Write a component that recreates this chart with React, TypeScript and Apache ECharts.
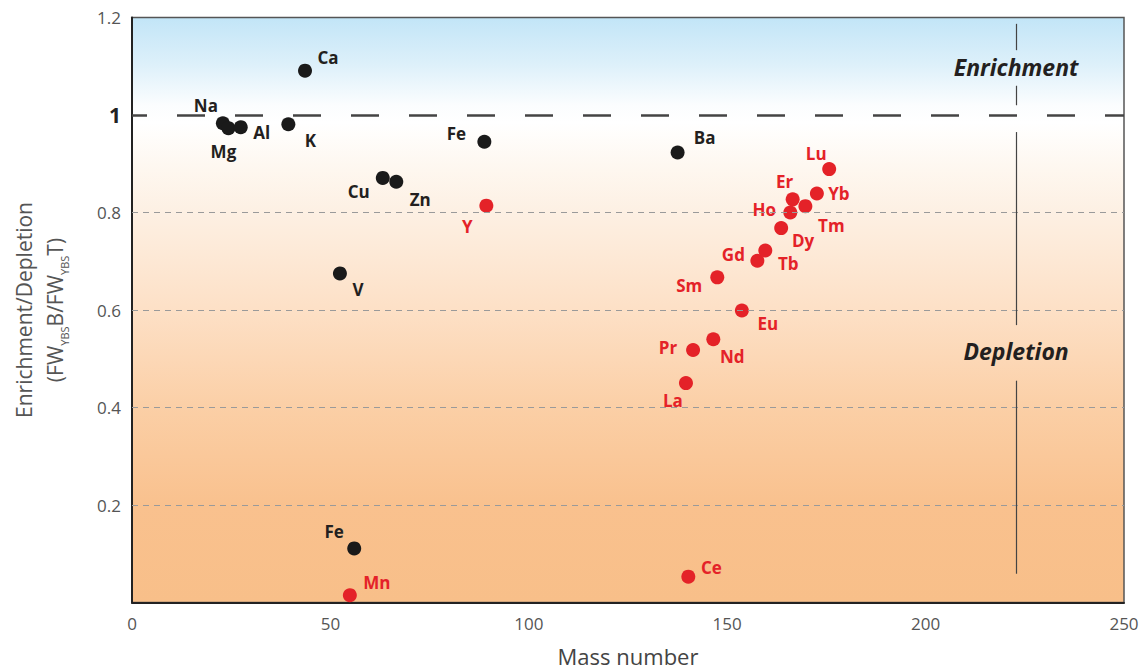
import React, { useEffect, useRef } from 'react';
import * as echarts from 'echarts';

// ---- Data ----
const blackNames = ['Ca', 'Na', 'Mg', 'Al', 'K', 'Fe', 'Ba', 'Cu', 'Zn', 'V', 'Fe'];
const blackMass = [43.6, 22.9, 24.3, 27.4, 39.4, 88.8, 137.5, 63.2, 66.6, 52.4, 56.0];
const blackRatio = [1.091, 0.983, 0.973, 0.975, 0.981, 0.945, 0.923, 0.871, 0.863, 0.675, 0.111];

const redNames = ['Y', 'La', 'Ce', 'Pr', 'Nd', 'Sm', 'Eu', 'Gd', 'Tb', 'Dy', 'Ho', 'Er', 'Tm', 'Yb', 'Lu', 'Mn'];
const redMass = [89.3, 139.6, 140.2, 141.4, 146.5, 147.5, 153.7, 157.6, 159.6, 163.6, 165.9, 166.5, 169.7, 172.6, 175.7, 54.9];
const redRatio = [0.814, 0.450, 0.053, 0.518, 0.540, 0.667, 0.599, 0.701, 0.722, 0.768, 0.800, 0.827, 0.813, 0.839, 0.889, 0.015];

const xMin = 0;
const xMax = 250;
const xStep = 50;
const yMin = 0;
const yMax = 1.2;
const yStep = 0.2;
const gridValues = [0.2, 0.4, 0.6, 0.8];
const unityValue = 1;
const dividerMass = 222.8;
const dividerSegments = [
  [1.187, 1.133],
  [1.06, 1.02],
  [0.965, 0.569],
  [0.455, 0.059],
];
const regionNames = ['Enrichment', 'Depletion'];
const regionMass = [222.8, 222.8];
const regionRatio = [1.098, 0.515];

// ---- Layout: label offsets (px) relative to the dot ----
const blackOffsets = [
  [23, -13], [-17, -18], [-5, 23], [21, 5], [22, 16], [-28, -8], [27, -15], [-24, 14], [24, 18], [18, 16], [-20, -17],
];
const redOffsets = [
  [-19, 21], [-13, 17], [23, -9], [-25, -2], [19, 17], [-28, 8], [26, 13], [-24, -6], [23, 13], [22, 12], [-26, -3],
  [-8, -18], [26, 19], [22, 0], [-13, -16], [27, -13],
];

const FONT = '"Open Sans", "Noto Sans", sans-serif';
const BLACK = '#1a1a1a';
const RED = '#e42228';

export default function App() {
  const ref = useRef<HTMLDivElement>(null);

  useEffect(() => {
    if (!ref.current) return;
    const chart = echarts.init(ref.current, undefined, { renderer: 'svg' });

    const mkPoints = (names: string[], xs: number[], ys: number[], offs: number[][]) =>
      names.map((n, i) => ({
        name: n,
        value: [xs[i], ys[i]],
        label: { offset: offs[i] },
      }));

    const gridMarkLines: any[] = gridValues.map((v) => ({
      yAxis: v,
      lineStyle: { type: [6, 5], color: '#9a9a9a', width: 1 },
    }));
    gridMarkLines.push({
      yAxis: unityValue,
      lineStyle: { type: [28, 30], dashOffset: 13, color: '#444', width: 2.6 },
    });
    dividerSegments.forEach((s) => {
      gridMarkLines.push([
        { coord: [dividerMass, s[0]], lineStyle: { type: 'solid', color: '#444', width: 1.2 } },
        { coord: [dividerMass, s[1]] },
      ]);
    });

    const labelBase = {
      show: true,
      position: 'inside',
      formatter: '{b}',
      fontSize: 17,
      fontWeight: 'bold',
      fontFamily: FONT,
    };

    const option: any = {
      animation: false,
      textStyle: { fontFamily: FONT },
      grid: {
        left: 128,
        right: 22,
        top: 17.5,
        bottom: 69.5,
        show: true,
        borderColor: '#555',
        borderWidth: 1.5,
        backgroundColor: new echarts.graphic.LinearGradient(0, 0, 0, 1, [
          { offset: 0, color: '#c2e5f7' },
          { offset: 0.08, color: '#ddf0fa' },
          { offset: 0.15, color: '#fbfdfe' },
          { offset: 0.18, color: '#ffffff' },
          { offset: 0.25, color: '#fef8f1' },
          { offset: 0.333, color: '#fdf0e3' },
          { offset: 0.5, color: '#fde0c6' },
          { offset: 0.667, color: '#fbcfa6' },
          { offset: 0.833, color: '#f9c18e' },
          { offset: 1, color: '#f8bf89' },
        ]),
      },
      xAxis: {
        type: 'value',
        min: xMin,
        max: xMax,
        interval: xStep,
        splitLine: { show: false },
        axisTick: { show: false },
        axisLine: { show: true, lineStyle: { color: '#222', width: 2 } },
        axisLabel: { fontSize: 17, color: '#555', margin: 12, fontFamily: FONT },
        name: 'Mass number',
        nameLocation: 'middle',
        nameGap: 42,
        nameTextStyle: { fontSize: 22, color: '#444', fontFamily: FONT },
      },
      yAxis: {
        type: 'value',
        min: yMin,
        max: yMax,
        interval: yStep,
        splitLine: { show: false },
        axisTick: { show: false },
        axisLine: { show: true, lineStyle: { color: '#222', width: 2 } },
        axisLabel: {
          fontSize: 17,
          color: '#555',
          margin: 11,
          fontFamily: FONT,
          formatter: (v: number) => {
            if (Math.abs(v) < 1e-9) return '';
            if (Math.abs(v - 1) < 1e-9) return '{b|1}';
            return v.toFixed(1);
          },
          rich: { b: { fontSize: 21, fontWeight: 'bold', color: '#222', fontFamily: FONT } },
        },
        name: 'Enrichment/Depletion\n(FW{s|YBS}B/FW{s|YBS}T)',
        nameLocation: 'middle',
        nameRotate: 90,
        nameGap: 62,
        nameTextStyle: {
          fontSize: 21,
          color: '#555',
          lineHeight: 31,
          fontFamily: FONT,
          rich: {
            s: { fontSize: 11, color: '#555', verticalAlign: 'bottom', lineHeight: 18, fontFamily: FONT },
          },
        },
      },
      series: [
        {
          type: 'scatter',
          name: 'guides',
          data: [],
          silent: true,
          markLine: {
            silent: true,
            symbol: ['none', 'none'],
            label: { show: false },
            data: gridMarkLines,
          },
        },
        {
          type: 'scatter',
          name: 'regions',
          silent: true,
          symbolSize: 0,
          itemStyle: { opacity: 1 },
          data: regionNames.map((n, i) => ({ name: n, value: [regionMass[i], regionRatio[i]] })),
          label: {
            show: true,
            position: 'inside',
            formatter: '{b}',
            fontSize: 23,
            fontStyle: 'italic',
            fontWeight: 'bold',
            color: '#231f20',
            fontFamily: FONT,
          },
        },
        {
          type: 'scatter',
          name: 'Major/trace elements',
          symbolSize: 14,
          itemStyle: { color: BLACK, opacity: 1 },
          data: mkPoints(blackNames, blackMass, blackRatio, blackOffsets),
          label: { ...labelBase, color: '#231f20' },
        },
        {
          type: 'scatter',
          name: 'REE / Y / Mn',
          symbolSize: 14,
          itemStyle: { color: RED, opacity: 1 },
          data: mkPoints(redNames, redMass, redRatio, redOffsets),
          label: { ...labelBase, color: RED },
        },
      ],
    };

    chart.setOption(option);
    return () => chart.dispose();
  }, []);

  return (
    <div
      ref={ref}
      style={{ position: 'fixed', left: 0, top: 0, width: 1146, height: 672, background: '#ffffff' }}
    />
  );
}
